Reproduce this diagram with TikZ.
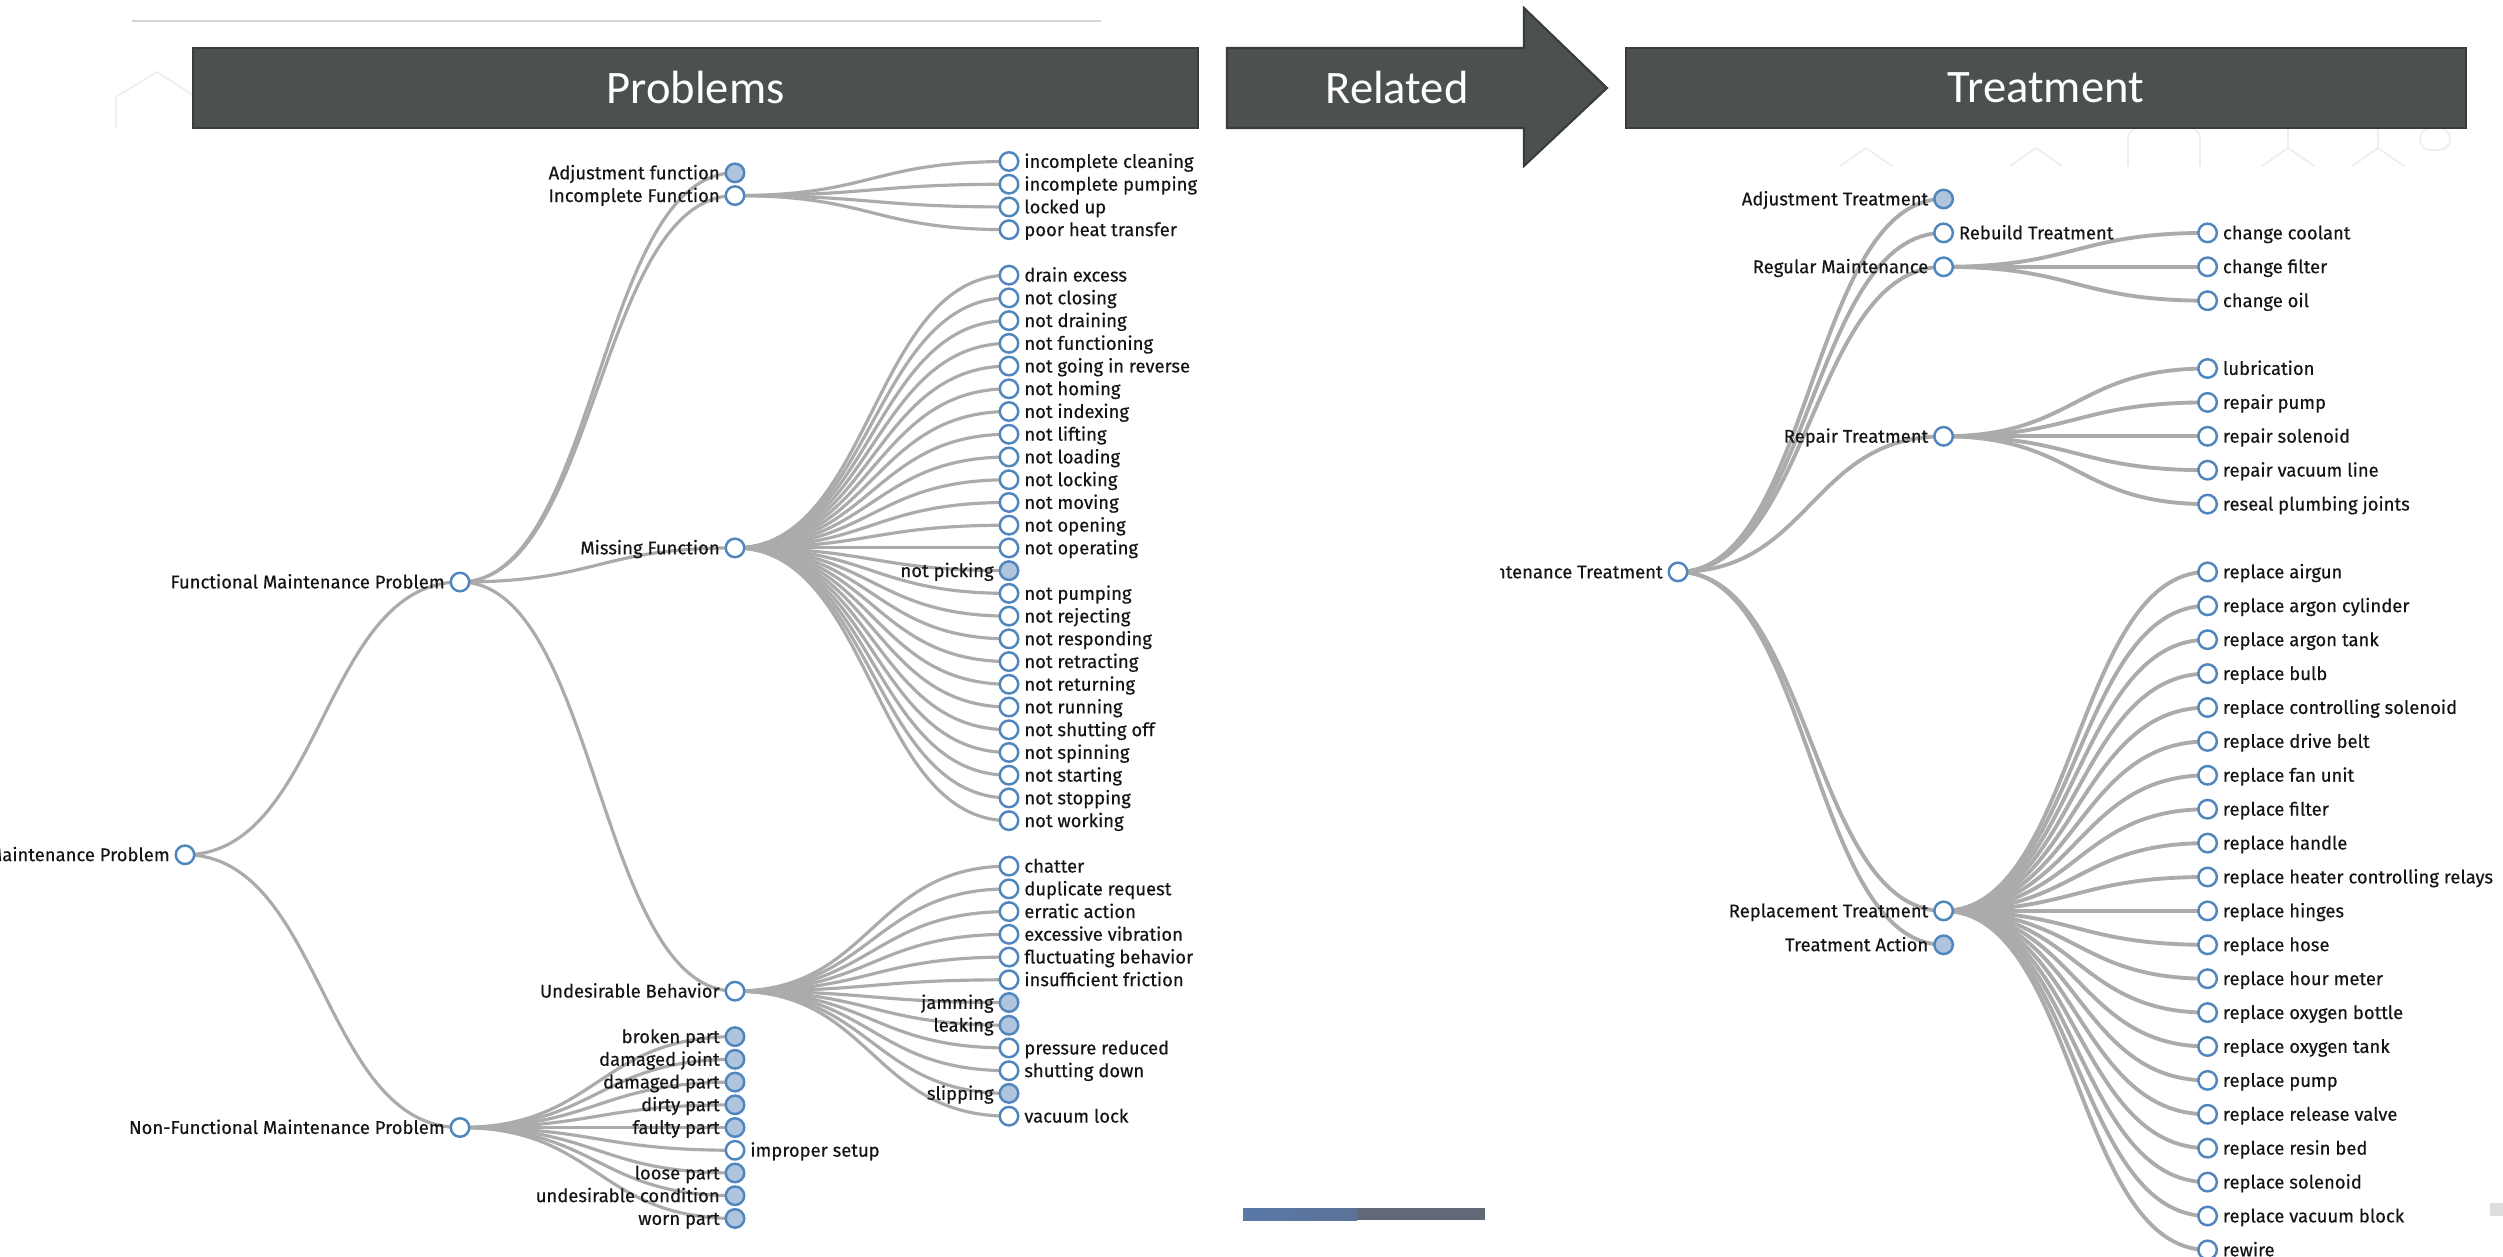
\documentclass[tikz,border=0pt]{standalone}
\usepackage{fontspec}
\newfontfamily\lblfont{Fira Sans}[FakeBold=0.35]
\newfontfamily\hdrfont{Carlito}
\usetikzlibrary{calc,backgrounds}
\definecolor{hdr}{HTML}{4B5051}
\definecolor{hdrb}{HTML}{383C3D}
\definecolor{lnkc}{HTML}{ABABAB}
\definecolor{cst}{HTML}{4F86BE}
\definecolor{cfl}{HTML}{B0C4DE}
\definecolor{txt}{HTML}{151515}
\definecolor{topline}{HTML}{D4D4D4}
\definecolor{faint}{HTML}{EEEEEE}
\definecolor{barA}{HTML}{5878A8}
\definecolor{barB}{HTML}{5D7298}
\definecolor{barC}{HTML}{636877}
\definecolor{edgemark}{HTML}{DDDDDD}
\tikzset{
 op/.style={circle,draw=cst,fill=white,line width=1.4pt,minimum size=0.37cm,inner sep=0pt},
 fl/.style={op,fill=cfl},
 lbl/.style={font=\lblfont\fontsize{10.5}{12}\selectfont,text=txt,inner sep=0pt,text height=7.3pt,text depth=0pt},
 lnkL/.style={draw=lnkc,line width=1.8pt},
 lnkR/.style={draw=lnkc,line width=2.2pt},
 hdrbox/.style={fill=hdr,draw=hdrb,line width=1.2pt,text=white,font=\hdrfont\fontsize{26.5}{30}\selectfont,inner sep=0pt},
 hdrtext/.style={text=white,font=\hdrfont\fontsize{26.5}{30}\selectfont,inner sep=0pt}
}
\newcommand\NL[5]{\node[#1] (#2) at (#3,{#4}) {};\node[lbl,anchor=east] (#2t) at ([xshift=-0.3cm]#2.center) {#5};}
\newcommand\NR[5]{\node[#1] (#2) at (#3,{#4}) {};\node[lbl,anchor=west] (#2t) at ([xshift=0.3cm]#2.center) {#5};}
\newcommand\LK[3]{\draw[#1] let \p1=(#2.center),\p2=(#3.center) in (\p1) .. controls ({(\x1+\x2)/2},\y1) and ({(\x1+\x2)/2},\y2) .. (\p2);}
\def\ly#1{161.5+22.73*#1}
\def\ry#1{199+33.9*#1}
\begin{document}
\begin{tikzpicture}[x=0.02cm,y=-0.02cm]
\useasboundingbox (0,0) rectangle (2503,1257);
\begin{pgfonlayer}{background}
\fill[white] (0,0) rectangle (2503,1257);
\end{pgfonlayer}
\clip (0,0) rectangle (2503,1257);

% faint decorations
\draw[faint,line width=1pt] (116,128) -- (116,97) -- (157,72) -- (193,95);
\draw[faint,line width=1pt] (1840,166) -- (1866,148) -- (1892,166);
\draw[faint,line width=1pt] (2010,166) -- (2036,148) -- (2062,166);
\draw[faint,line width=1pt,rounded corners=6pt] (2128,166) -- (2128,128) -- (2200,128) -- (2200,166);
\draw[faint,line width=1pt] (2262,166) -- (2288,148) -- (2314,166) (2288,148) -- (2288,128);
\draw[faint,line width=1pt] (2352,166) -- (2378,148) -- (2404,166) (2378,148) -- (2378,128);
\draw[faint,line width=1pt,rounded corners=6pt] (2420,150) -- (2420,128) -- (2450,128) -- (2450,150) -- cycle;

% top line
\draw[topline,line width=1pt] (132,21) -- (1101,21);

% headers
\node[hdrbox,minimum width=20.1cm,minimum height=1.6cm] (prob) at (695.5,88) {Problems};
\filldraw[fill=hdr,draw=hdrb,line width=1.2pt] (1227,48) -- (1524,48) -- (1524,8) -- (1607,88) -- (1524,166) -- (1524,128) -- (1227,128) -- cycle;
\node[hdrtext] (rel) at (1397,88) {Related};
\node[hdrbox,minimum width=16.81cm,minimum height=1.6cm] (treat) at (2045.8,88) {Treatment};

% bottom bar
\shade[left color=barA,right color=barB] (1243,1208) rectangle (1357,1220);
\fill[barC] (1357,1208) rectangle (1485,1220);
\fill[edgemark] (2490,1203) rectangle (2503,1216);

% ===== Left tree =====
\NL{op}{r0}{185}{\ly{30.5}}{Maintenance Problem}
\NL{op}{fmp}{460}{\ly{18.5}}{Functional Maintenance Problem}
\NL{op}{nfmp}{460}{\ly{42.5}}{Non-Functional Maintenance Problem}
\NL{fl}{adjf}{735}{\ly{0.5}}{Adjustment function}
\NL{op}{incf}{735}{\ly{1.5}}{Incomplete Function}
\NL{op}{misf}{735}{\ly{17}}{Missing Function}
\NL{op}{undb}{735}{\ly{36.5}}{Undesirable Behavior}
\NL{fl}{p1}{735}{\ly{38.5}}{broken part}
\NL{fl}{p2}{735}{\ly{39.5}}{damaged joint}
\NL{fl}{p3}{735}{\ly{40.5}}{damaged part}
\NL{fl}{p4}{735}{\ly{41.5}}{dirty part}
\NL{fl}{p5}{735}{\ly{42.5}}{faulty part}
\NR{op}{p6}{735}{\ly{43.5}}{improper setup}
\NL{fl}{p7}{735}{\ly{44.5}}{loose part}
\NL{fl}{p8}{735}{\ly{45.5}}{undesirable condition}
\NL{fl}{p9}{735}{\ly{46.5}}{worn part}

\foreach \i/\t in {0/incomplete cleaning,1/incomplete pumping,2/locked up,3/poor heat transfer,
 5/drain excess,6/not closing,7/not draining,8/not functioning,9/not going in reverse,10/not homing,
 11/not indexing,12/not lifting,13/not loading,14/not locking,15/not moving,16/not opening,17/not operating,
 19/not pumping,20/not rejecting,21/not responding,22/not retracting,23/not returning,24/not running,
 25/not shutting off,26/not spinning,27/not starting,28/not stopping,29/not working,
 31/chatter,32/duplicate request,33/erratic action,34/excessive vibration,35/fluctuating behavior,
 36/insufficient friction,39/pressure reduced,40/shutting down,42/vacuum lock}
 {\NR{op}{a\i}{1009}{\ly{\i}}{\t}}
\NL{fl}{a18}{1009}{\ly{18}}{not picking}
\NL{fl}{a37}{1009}{\ly{37}}{jamming}
\NL{fl}{a38}{1009}{\ly{38}}{leaking}
\NL{fl}{a41}{1009}{\ly{41}}{slipping}

% ===== Right tree =====
\node[op] (rr0) at (1678,{\ry{11}}) {};
\begin{scope}
\clip (1500,180) rectangle (2503,1257);
\node[lbl,anchor=east] (rr0t) at ([xshift=-0.3cm]rr0.center) {Maintenance Treatment};
\end{scope}
\NL{fl}{adjt}{1943.6}{\ry{0}}{Adjustment Treatment}
\NR{op}{rebt}{1943.6}{\ry{1}}{Rebuild Treatment}
\NL{op}{regm}{1943.6}{\ry{2}}{Regular Maintenance}
\NL{op}{rept}{1943.6}{\ry{7}}{Repair Treatment}
\NL{op}{rplt}{1943.6}{\ry{21}}{Replacement Treatment}
\NL{fl}{tact}{1943.6}{\ry{22}}{Treatment Action}
\foreach \i/\t in {1/change coolant,2/change filter,3/change oil,
 5/lubrication,6/repair pump,7/repair solenoid,8/repair vacuum line,9/reseal plumbing joints,
 11/replace airgun,12/replace argon cylinder,13/replace argon tank,14/replace bulb,
 15/replace controlling solenoid,16/replace drive belt,17/replace fan unit,18/replace filter,
 19/replace handle,20/replace heater controlling relays,21/replace hinges,22/replace hose,
 23/replace hour meter,24/replace oxygen bottle,25/replace oxygen tank,26/replace pump,
 27/replace release valve,28/replace resin bed,29/replace solenoid,30/replace vacuum block,31/rewire}
 {\NR{op}{b\i}{2207.6}{\ry{\i}}{\t}}

% ===== Links =====
\begin{pgfonlayer}{background}
\foreach \c in {fmp,nfmp} {\LK{lnkL}{r0}{\c}}
\foreach \c in {adjf,incf,misf,undb} {\LK{lnkL}{fmp}{\c}}
\foreach \i in {1,...,9} {\LK{lnkL}{nfmp}{p\i}}
\foreach \i in {0,...,3} {\LK{lnkL}{incf}{a\i}}
\foreach \i in {5,...,29} {\LK{lnkL}{misf}{a\i}}
\foreach \i in {31,...,42} {\LK{lnkL}{undb}{a\i}}
\foreach \c in {adjt,rebt,regm,rept,rplt,tact} {\LK{lnkR}{rr0}{\c}}
\foreach \i in {1,...,3} {\LK{lnkR}{regm}{b\i}}
\foreach \i in {5,...,9} {\LK{lnkR}{rept}{b\i}}
\foreach \i in {11,...,31} {\LK{lnkR}{rplt}{b\i}}
\end{pgfonlayer}
\end{tikzpicture}
\end{document}
